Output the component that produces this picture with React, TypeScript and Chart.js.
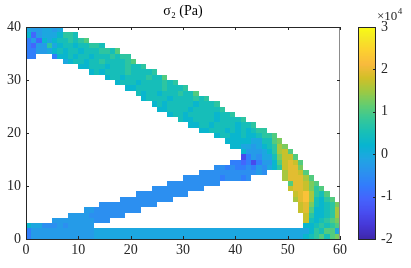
import React, { useEffect, useRef } from 'react';
import { Chart, registerables } from 'chart.js';

Chart.register(...registerables);

// ---- axes ----
const X_MIN = 0;
const X_MAX = 60;
const Y_MIN = 0;
const Y_MAX = 40;
const X_TICK_STEP = 10;
const Y_TICK_STEP = 10;
const CB_MIN = -2;
const CB_MAX = 3;
const CB_TICK_STEP = 1;
const TITLE = 'σ₂ (Pa)';
const CB_EXP_BASE = '×10';
const CB_EXP_POWER = '4';

// ---- cell value levels (×10^4 Pa) ----
const LEVEL_CODES = 'ABCDEFGHIJKLMNO';
const LEVEL_VALUES = [-1.4, -1.0, -0.7, -0.45, -0.25, -0.05, 0.25, 0.5, 0.75, 1.05, 1.3, 1.55, 1.75, 1.95, 2.25];

// ---- grid rows (first entry = row 39, last = row 0); segments [startColumn, codes] ----
const GRID_TOP_ROW = 39;
const GRID_ROWS: [number, string][][] = [
  [[0, 'FEEFFEF']],
  [[0, 'GBEFFFGIIH']],
  [[0, 'CEBGFGHHIHIJ']],
  [[0, 'CBEEIFGHHGHHIIH']],
  [[0, 'CCEEFGHGHHGHHHIIHJ']],
  [[0, 'CC'], [5, 'CGGHGHHGHHHIHII']],
  [[7, 'FGHHGHHIHHHHIJ']],
  [[10, 'GGHHHGHHHIHHI']],
  [[12, 'GHGHHHHIHHHHI']],
  [[15, 'GHHGHHHHIHHJ']],
  [[17, 'GHHHGHHHHIHI']],
  [[19, 'GGHHHHHIHHHI']],
  [[21, 'HGHHGHHHIHHJ']],
  [[22, 'GHHHHGHHHHIHI']],
  [[24, 'GHGHHHHHGHHHI']],
  [[25, 'GGHHHHGHHHHHI']],
  [[27, 'GHHGHHHHHGHHI']],
  [[29, 'HGGHHHHGHHHHI']],
  [[31, 'GGHHGHHHHGHHI']],
  [[33, 'GGHHHGHGHGHII']],
  [[36, 'GHHGGHGGHIIJ']],
  [[38, 'GGGGGFFHHJK']],
  [[39, 'GGFFEFGHILK']],
  [[41, 'GEEEFGILMJ']],
  [[41, 'ACEDFFHKMMJ']],
  [[39, 'CCBCACEEGJMNMJ']],
  [[36, 'DDCDCCDCEDFGIMNNK']],
  [[33, 'DDDDDDDDDDDED'], [49, 'LNNMJ']],
  [[30, 'DDDDDDDCDDDCD'], [49, 'LNNNLJ']],
  [[27, 'DDDDDDDDDD'], [50, 'JNNMKJ']],
  [[24, 'DDDDDDDDDD'], [50, 'MNNMKIJ']],
  [[21, 'DDDDDDDDDD'], [51, 'MNOLIHJ']],
  [[18, 'DDDDDDDDDD'], [51, 'LNOLHGIJ']],
  [[14, 'DDDDDDDDDDD'], [52, 'MNKHGHIK']],
  [[11, 'EEDDDDDDDDD'], [52, 'MNJGGHIL']],
  [[8, 'EEEEDDDDDDD'], [53, 'MIGGHIL']],
  [[5, 'EEEEEEEEDDD'], [53, 'MHGHIJK']],
  [[0, 'GFFDDDEDEEEEE'], [53, 'GGHIHIJ']],
  [[0, 'CEEEEEEEEEEEE'], [13, 'FFFFFFFFFF'], [23, 'FFFFFFFFFF'], [33, 'FFFFFFFFFF'], [43, 'FFFFFFFFFF'], [53, 'FGIHJJF']],
  [[0, 'CEEEEEEEEEEEE'], [13, 'FFFFFFFFFF'], [23, 'FFFFFFFFFF'], [33, 'FFFFFFFFFF'], [43, 'FFFFFFFFFF'], [53, 'GHIJHJK']],
];

// ---- parula colormap ----
const PARULA: [number, number, number, number][] = [
  [0 / 63, 0.2422, 0.1504, 0.6603],
  [4 / 63, 0.2706, 0.2147, 0.8364],
  [8 / 63, 0.2813, 0.3006, 0.9414],
  [12 / 63, 0.2699, 0.3892, 0.9906],
  [16 / 63, 0.1963, 0.4847, 0.9892],
  [20 / 63, 0.1687, 0.5703, 0.9359],
  [24 / 63, 0.1248, 0.6459, 0.8883],
  [28 / 63, 0.0297, 0.7082, 0.8163],
  [32 / 63, 0.0964, 0.75, 0.712],
  [36 / 63, 0.2161, 0.7843, 0.5923],
  [40 / 63, 0.3909, 0.8029, 0.4354],
  [44 / 63, 0.6174, 0.7876, 0.2612],
  [48 / 63, 0.8203, 0.7498, 0.1535],
  [52 / 63, 0.9728, 0.7298, 0.2394],
  [56 / 63, 0.9892, 0.8136, 0.1885],
  [60 / 63, 0.9597, 0.9135, 0.1423],
  [63 / 63, 0.9769, 0.9839, 0.0805],
];

function parula(v: number): string {
  let f = (v - CB_MIN) / (CB_MAX - CB_MIN);
  f = Math.max(0, Math.min(1, f));
  let i = 0;
  while (i < PARULA.length - 2 && f > PARULA[i + 1][0]) i++;
  const a = PARULA[i];
  const b = PARULA[i + 1];
  const t = (f - a[0]) / (b[0] - a[0]);
  const c = [1, 2, 3].map((k) => Math.round(255 * (a[k] + (b[k] - a[k]) * t)));
  return `rgb(${c[0]},${c[1]},${c[2]})`;
}

type Cell = { x: number; y: number; v: number };

function buildCells(): Cell[] {
  const out: Cell[] = [];
  GRID_ROWS.forEach((segs, i) => {
    const row = GRID_TOP_ROW - i;
    segs.forEach(([x0, codes]) => {
      for (let k = 0; k < codes.length; k++) {
        const idx = LEVEL_CODES.indexOf(codes[k]);
        if (idx < 0) continue;
        out.push({ x: x0 + k + 0.5, y: row + 0.5, v: LEVEL_VALUES[idx] });
      }
    });
  });
  return out;
}

const FONT_FAMILY = "'Liberation Serif', 'DejaVu Serif', serif";
const TEXT_COLOR = '#262626';

const heatmapPlugin = {
  id: 'heatmapCells',
  beforeDatasetsDraw(chart: any) {
    const { ctx, chartArea: a, scales } = chart;
    const xs = scales.x;
    const ys = scales.y;
    const data = chart.data.datasets[0].data as Cell[];
    ctx.save();
    ctx.beginPath();
    ctx.rect(a.left, a.top, a.right - a.left, a.bottom - a.top);
    ctx.clip();
    for (const c of data) {
      const x0 = Math.round(xs.getPixelForValue(c.x - 0.5));
      const x1 = Math.round(xs.getPixelForValue(c.x + 0.5));
      const y0 = Math.round(ys.getPixelForValue(c.y + 0.5));
      const y1 = Math.round(ys.getPixelForValue(c.y - 0.5));
      ctx.fillStyle = parula(c.v);
      ctx.fillRect(x0, y0, x1 - x0, y1 - y0);
    }
    ctx.restore();
  },
};

const framePlugin = {
  id: 'axesFrame',
  afterDraw(chart: any) {
    const { ctx, chartArea: a, scales } = chart;
    const xs = scales.x;
    const ys = scales.y;
    const L = 3;
    ctx.save();
    ctx.lineWidth = 1;
    ctx.strokeStyle = TEXT_COLOR;
    ctx.beginPath();
    ctx.moveTo(a.left, a.top + 0.5);
    ctx.lineTo(a.right, a.top + 0.5);
    ctx.moveTo(a.left + 0.5, a.top);
    ctx.lineTo(a.left + 0.5, a.bottom);
    ctx.moveTo(a.left, a.bottom + 0.5);
    ctx.lineTo(a.right, a.bottom + 0.5);
    ctx.stroke();
    ctx.strokeStyle = '#8c8c8c';
    ctx.beginPath();
    ctx.moveTo(a.right - 0.5, a.top);
    ctx.lineTo(a.right - 0.5, a.bottom + 1);
    ctx.stroke();
    ctx.strokeStyle = TEXT_COLOR;
    ctx.beginPath();
    xs.ticks.forEach((t: any) => {
      const px = Math.round(xs.getPixelForValue(t.value)) + 0.5;
      ctx.moveTo(px, a.bottom);
      ctx.lineTo(px, a.bottom - L);
      ctx.moveTo(px, a.top);
      ctx.lineTo(px, a.top + L);
    });
    ys.ticks.forEach((t: any) => {
      const py = Math.round(ys.getPixelForValue(t.value)) + 0.5;
      ctx.moveTo(a.left, py);
      ctx.lineTo(a.left + L, py);
      ctx.moveTo(a.right, py);
      ctx.lineTo(a.right - L, py);
    });
    ctx.stroke();
    ctx.restore();
  },
};

const colorbarPlugin = {
  id: 'colorbarStrip',
  beforeDatasetsDraw(chart: any) {
    const { ctx, chartArea: a, scales } = chart;
    const ys = scales.y;
    const n = 256;
    ctx.save();
    for (let i = 0; i < n; i++) {
      const v0 = CB_MIN + ((CB_MAX - CB_MIN) * i) / n;
      const v1 = CB_MIN + ((CB_MAX - CB_MIN) * (i + 1)) / n;
      const yA = ys.getPixelForValue(v1);
      const yB = ys.getPixelForValue(v0);
      ctx.fillStyle = parula((v0 + v1) / 2);
      ctx.fillRect(a.left, Math.floor(yA), a.right - a.left, Math.ceil(yB) - Math.floor(yA));
    }
    ctx.restore();
  },
  afterDraw(chart: any) {
    const { ctx, chartArea: a, scales } = chart;
    const ys = scales.y;
    ctx.save();
    ctx.strokeStyle = TEXT_COLOR;
    ctx.lineWidth = 1;
    ctx.strokeRect(a.left + 0.5, a.top + 0.5, a.right - a.left - 1, a.bottom - a.top);
    ctx.beginPath();
    ys.ticks.forEach((t: any) => {
      const py = Math.round(ys.getPixelForValue(t.value)) + 0.5;
      ctx.moveTo(a.right, py);
      ctx.lineTo(a.right - 3, py);
    });
    ctx.stroke();
    ctx.fillStyle = TEXT_COLOR;
    ctx.textBaseline = 'alphabetic';
    ctx.textAlign = 'left';
    ctx.font = `13px ${FONT_FAMILY}`;
    const bx = a.right + 1;
    ctx.fillText(CB_EXP_BASE, bx, a.top - 7);
    const w = ctx.measureText(CB_EXP_BASE).width;
    ctx.font = `9px ${FONT_FAMILY}`;
    ctx.fillText(CB_EXP_POWER, bx + w + 0.5, a.top - 13);
    ctx.restore();
  },
};

export default function App() {
  const mainRef = useRef<HTMLCanvasElement>(null);
  const cbRef = useRef<HTMLCanvasElement>(null);

  useEffect(() => {
    const tickFont = { family: FONT_FAMILY, size: 14 };
    const cells = buildCells();
    const main = new Chart(mainRef.current as HTMLCanvasElement, {
      type: 'scatter',
      data: {
        datasets: [
          {
            data: cells as any,
            pointRadius: 0,
            pointHoverRadius: 0,
          },
        ],
      },
      options: {
        responsive: false,
        animation: false,
        devicePixelRatio: 1,
        events: [],
        layout: { padding: { left: 0, right: 7, top: 0, bottom: 0 } },
        plugins: {
          legend: { display: false },
          tooltip: { enabled: false },
          title: {
            display: true,
            text: TITLE,
            fullSize: false,
            color: '#000',
            font: { family: FONT_FAMILY, size: 14, weight: 'normal' as any, lineHeight: 1.2 },
            padding: { top: 3, bottom: 7.2 },
          },
        },
        scales: {
          x: {
            type: 'linear',
            min: X_MIN,
            max: X_MAX,
            ticks: { stepSize: X_TICK_STEP, font: tickFont, color: TEXT_COLOR, padding: 3, maxRotation: 0 },
            grid: { display: false, drawTicks: false },
            border: { display: true, color: TEXT_COLOR, width: 1 },
            afterFit: (s: any) => {
              s.height = 29;
            },
          },
          y: {
            type: 'linear',
            min: Y_MIN,
            max: Y_MAX,
            ticks: { stepSize: Y_TICK_STEP, font: tickFont, color: TEXT_COLOR, padding: 5 },
            grid: { display: false, drawTicks: false },
            border: { display: true, color: TEXT_COLOR, width: 1 },
            afterFit: (s: any) => {
              s.width = 26;
            },
          },
        },
      },
      plugins: [heatmapPlugin, framePlugin],
    });

    const cb = new Chart(cbRef.current as HTMLCanvasElement, {
      type: 'scatter',
      data: { datasets: [{ data: [], pointRadius: 0 }] },
      options: {
        responsive: false,
        animation: false,
        devicePixelRatio: 1,
        events: [],
        layout: { padding: { left: 8, right: 0, top: 27, bottom: 29 } },
        plugins: { legend: { display: false }, tooltip: { enabled: false }, title: { display: false } },
        scales: {
          x: { type: 'linear', display: false, min: 0, max: 1 },
          y: {
            type: 'linear',
            position: 'right',
            min: CB_MIN,
            max: CB_MAX,
            ticks: { stepSize: CB_TICK_STEP, font: tickFont, color: TEXT_COLOR, padding: 5 },
            grid: { display: false, drawTicks: false },
            border: { display: false },
            afterFit: (s: any) => {
              s.width = 35;
            },
          },
        },
      },
      plugins: [colorbarPlugin],
    });

    return () => {
      main.destroy();
      cb.destroy();
    };
  }, []);

  return (
    <div style={{ position: 'absolute', left: 0, top: 0, width: 411, height: 268, background: '#fff' }}>
      <canvas
        ref={mainRef}
        width={350}
        height={268}
        style={{ position: 'absolute', left: 0, top: 0, width: 350, height: 268 }}
      />
      <canvas
        ref={cbRef}
        width={61}
        height={268}
        style={{ position: 'absolute', left: 350, top: 0, width: 61, height: 268 }}
      />
    </div>
  );
}
